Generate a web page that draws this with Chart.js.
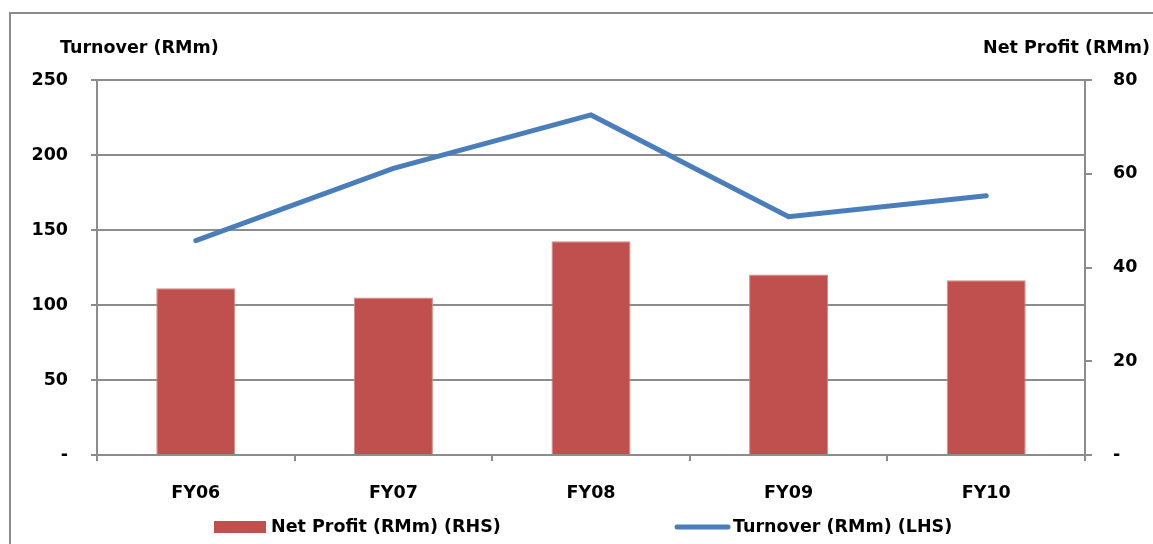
<!DOCTYPE html>
<html>
<head>
<meta charset="utf-8">
<script src="https://cdn.jsdelivr.net/npm/chart.js@4.4.1/dist/chart.umd.min.js"></script>
<style>
  html, body { margin: 0; padding: 0; background: #fff; overflow: hidden; }
  #wrap { position: relative; width: 1153px; height: 544px; }
  #frame { position: absolute; left: 9px; top: 12px; width: 1160px; height: 600px; border: 2px solid #8c8c8c; box-sizing: border-box; }
  canvas { position: absolute; left: 0; top: 0; }
</style>
</head>
<body>
<div id="wrap">
  <div id="frame"></div>
  <canvas id="chart" width="1153" height="544"></canvas>
</div>
<script>
// 数据
const categories = ['FY06', 'FY07', 'FY08', 'FY09', 'FY10'];
const netProfit = [35.6, 33.6, 45.6, 38.5, 37.3];     // RHS
const turnover = [142.9, 191.1, 226.7, 158.9, 172.9]; // LHS
const leftTicks = [0, 50, 100, 150, 200, 250];
const rightTicks = [0, 20, 40, 60, 80];

const FONT = 'DejaVu Sans';
const FSIZE = 17.5;
const gridColor = '#8c8c8c';

// 轴标题和图例
const extras = {
    id: 'extras',
    afterDraw(chart) {
        const ctx = chart.ctx;
        const bars = chart.data.datasets.find(d => d.type === 'bar');
        const line = chart.data.datasets.find(d => d.type === 'line');
        ctx.save();
        ctx.fillStyle = '#000';
        ctx.font = 'bold ' + FSIZE + 'px ' + FONT;
        ctx.textBaseline = 'middle';
        ctx.textAlign = 'left';
        ctx.fillText('Turnover (RMm)', 60, 48);
        ctx.textAlign = 'right';
        ctx.fillText('Net Profit (RMm)', 1150, 48);

        // 图例
        ctx.textAlign = 'left';
        ctx.fillStyle = bars.backgroundColor;
        ctx.fillRect(214, 521, 52, 12);
        ctx.fillStyle = '#000';
        ctx.fillText(bars.label, 271, 527);

        ctx.strokeStyle = line.borderColor;
        ctx.lineWidth = 5;
        ctx.lineCap = 'round';
        ctx.beginPath();
        ctx.moveTo(677, 527);
        ctx.lineTo(728, 527);
        ctx.stroke();
        ctx.fillText(line.label, 733, 527);
        ctx.restore();
    }
};

new Chart(document.getElementById('chart').getContext('2d'), {
    data: {
        labels: categories,
        datasets: [{
            type: 'line',
            label: 'Turnover (RMm) (LHS)',
            data: turnover,
            yAxisID: 'yL',
            borderColor: '#4a7ebb',
            backgroundColor: '#4a7ebb',
            borderWidth: 5,
            pointRadius: 0,
            tension: 0,
            borderCapStyle: 'round',
            order: 0
        }, {
            type: 'bar',
            label: 'Net Profit (RMm) (RHS)',
            data: netProfit,
            yAxisID: 'yR',
            backgroundColor: '#c0504d',
            borderColor: '#d48a88',
            borderWidth: 1,
            barPercentage: 0.4,
            categoryPercentage: 1,
            order: 1
        }]
    },
    options: {
        responsive: false,
        animation: false,
        layout: { padding: { top: 80, left: 0, right: 0, bottom: 0 } },
        plugins: { legend: { display: false }, tooltip: { enabled: false } },
        scales: {
            x: {
                grid: { display: true, drawOnChartArea: false, offset: true, tickLength: 6, color: gridColor, lineWidth: 2 },
                border: { color: gridColor, width: 2 },
                ticks: { color: '#000', font: { family: FONT, size: FSIZE, weight: 'bold' }, padding: 22 },
                afterFit(axis) { axis.height = 89; }
            },
            yL: {
                position: 'left',
                min: 0, max: 250,
                afterBuildTicks(axis) { axis.ticks = leftTicks.map(v => ({ value: v })); },
                grid: { color: gridColor, lineWidth: 2, tickLength: 6 },
                border: { color: gridColor, width: 2 },
                ticks: {
                    color: '#000', font: { family: FONT, size: FSIZE, weight: 'bold' }, padding: 23,
                    callback: v => v === 0 ? '-' : v
                },
                afterFit(axis) { axis.width = 97; }
            },
            yR: {
                position: 'right',
                min: 0, max: 80,
                afterBuildTicks(axis) { axis.ticks = rightTicks.map(v => ({ value: v })); },
                grid: { drawOnChartArea: false, color: gridColor, lineWidth: 2, tickLength: 7 },
                border: { color: gridColor, width: 2 },
                ticks: {
                    color: '#000', font: { family: FONT, size: FSIZE, weight: 'bold' }, padding: 21,
                    callback: v => v === 0 ? '-' : v
                },
                afterFit(axis) { axis.width = 68; }
            }
        }
    },
    plugins: [extras]
});
</script>
</body>
</html>
